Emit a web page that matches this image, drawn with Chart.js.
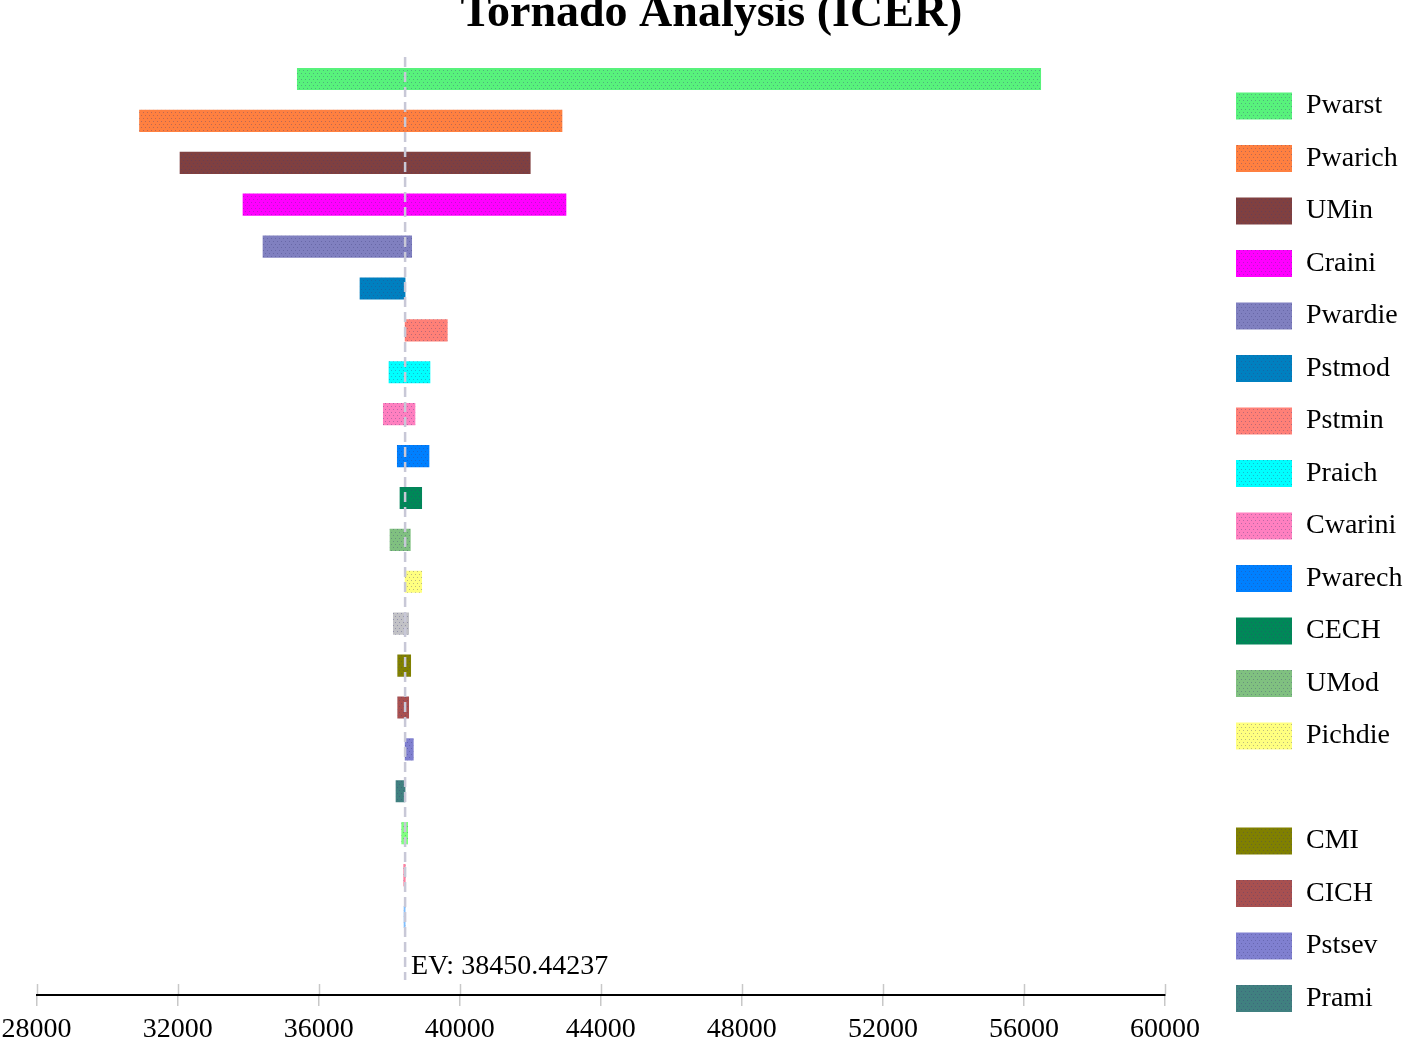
<!DOCTYPE html>
<html>
<head>
<meta charset="utf-8">
<script src="https://cdn.jsdelivr.net/npm/chart.js@4.4.1/dist/chart.umd.min.js"></script>
<style>
  html, body { margin: 0; padding: 0; background: #ffffff; }
  #wrap { width: 1403px; height: 1037px; position: relative; overflow: hidden; }
</style>
</head>
<body>
<div id="wrap"><canvas id="chart" width="1403" height="1037"></canvas></div>
<script>
// ---- data ----
const categories = ['Pwarst', 'Pwarich', 'UMin', 'Craini', 'Pwardie', 'Pstmod', 'Pstmin', 'Praich',
  'Cwarini', 'Pwarech', 'CECH', 'UMod', 'Pichdie', '', 'CMI', 'CICH', 'Pstsev', 'Prami', '', '', ''];
const lowValues  = [35393, 30918, 32067, 33853, 34420, 37171, 38450, 37993,
  37832, 38229, 38305, 38022, 38450, 38116, 38240, 38240, 38450, 38192, 38353, 38410, 38420];
const highValues = [56475, 42900, 42000, 43013, 38637, 38450, 39647, 39156,
  38731, 39128, 38921, 38598, 38921, 38552, 38609, 38552, 38683, 38450, 38523, 38455, 38452];
const xTickValues = [28000, 32000, 36000, 40000, 44000, 48000, 52000, 56000, 60000];
const expectedValue = 38450.44237;
const evLabel = 'EV: 38450.44237';
const chartTitle = 'Tornado Analysis (ICER)';
const legendVisibleCount = 18;

// ---- styles ----
const barColors = ['#58F27C', '#FF8040', '#804040', '#FF00FF', '#8080C0', '#0080C0', '#FF8077', '#00FFFF',
  '#FF80C0', '#0080FF', '#008858', '#80C080', '#FFFF80', '#C2C2C6', '#808000', '#A85050', '#8080D0',
  '#408080', '#80FF80', '#FF80A0', '#80C0FF'];
const SERIF = "'Liberation Serif', 'Times New Roman', Times, serif";

function hexToRgb(h) {
  const n = parseInt(h.slice(1), 16);
  return [(n >> 16) & 255, (n >> 8) & 255, n & 255];
}
function dotted(hex) {
  const c = document.createElement('canvas');
  c.width = 8; c.height = 6;
  const g = c.getContext('2d');
  g.fillStyle = hex; g.fillRect(0, 0, 8, 6);
  const [r, gg, b] = hexToRgb(hex);
  const m = (a, t) => Math.round(a * 0.65 + t * 0.35);
  g.fillStyle = `rgb(${m(r, 60)},${m(gg, 60)},${m(b, 120)})`;
  [[1, 1], [5, 1], [3, 4], [7, 4]].forEach(([x, y]) => g.fillRect(x, y, 1, 1));
  return g.createPattern(c, 'repeat');
}

const datasets = categories.map((name, i) => ({
  label: name,
  data: [{ x: [lowValues[i], highValues[i]], y: i }],
  backgroundColor: dotted(barColors[i]),
  borderWidth: 0,
  barThickness: 21.5,
  grouped: false,
  xAxisID: 'x',
  yAxisID: 'y'
}));

const evPlugin = {
  id: 'evLine',
  afterDatasetsDraw(chart) {
    const { ctx, chartArea, scales } = chart;
    const px = scales.x.getPixelForValue(expectedValue);
    ctx.save();
    ctx.strokeStyle = 'rgba(200,200,215,1)';
    ctx.lineWidth = 2.5;
    ctx.setLineDash([10, 5]);
    ctx.beginPath();
    ctx.moveTo(px, chartArea.top);
    ctx.lineTo(px, 980);
    ctx.stroke();
    ctx.setLineDash([]);
    ctx.fillStyle = '#000';
    ctx.font = '28px ' + SERIF;
    ctx.textBaseline = 'alphabetic';
    ctx.textAlign = 'left';
    ctx.fillText(evLabel, px + 6, 974);
    ctx.restore();
  }
};

const upperTicksPlugin = {
  id: 'upperTicks',
  afterDraw(chart) {
    const { ctx, chartArea, scales } = chart;
    ctx.save();
    ctx.strokeStyle = '#c8c8c8';
    ctx.lineWidth = 1.5;
    scales.x.ticks.forEach(t => {
      const px = Math.round(scales.x.getPixelForValue(t.value)) + 0.5;
      ctx.beginPath();
      ctx.moveTo(px, chartArea.bottom - 11);
      ctx.lineTo(px, chartArea.bottom - 1);
      ctx.stroke();
    });
    ctx.restore();
  }
};

new Chart(document.getElementById('chart'), {
  type: 'bar',
  data: { datasets },
  plugins: [evPlugin, upperTicksPlugin],
  options: {
    responsive: false,
    animation: false,
    indexAxis: 'y',
    layout: { padding: { left: 20, right: 0, top: 0, bottom: 0 } },
    scales: {
      x: {
        type: 'linear',
        position: 'bottom',
        min: 28000,
        max: 60000,
        offset: false,
        afterBuildTicks: s => { s.ticks = xTickValues.map(v => ({ value: v })); },
        afterFit: s => { s.height = 42; s.paddingLeft = 0; s.paddingRight = 0; },
        ticks: {
          font: { family: SERIF, size: 28 },
          color: '#000',
          padding: 7,
          maxRotation: 0,
          autoSkip: false,
          callback: v => String(v)
        },
        grid: { drawOnChartArea: false, drawTicks: true, tickLength: 11, color: '#c8c8c8', lineWidth: 1.5 },
        border: { display: true, color: '#000', width: 2 }
      },
      y: {
        type: 'linear',
        position: 'left',
        reverse: true,
        offset: false,
        bounds: 'data',
        min: -0.525,
        max: 21.862,
        afterFit: s => { s.width = 16.6; },
        ticks: { display: false },
        grid: { display: false, offset: false },
        border: { display: false }
      },
      yRight: {
        type: 'linear',
        position: 'right',
        offset: false,
        afterFit: s => { s.width = 46.5; },
        ticks: { display: false },
        grid: { display: false },
        border: { display: false }
      }
    },
    plugins: {
      title: {
        display: true,
        text: chartTitle,
        color: '#000',
        font: { family: SERIF, size: 46, weight: 'bold', lineHeight: 1 },
        padding: { top: -9, bottom: 20 }
      },
      legend: {
        display: true,
        position: 'right',
        align: 'end',
        maxWidth: 191.5,
        labels: {
          color: '#000',
          font: { family: SERIF, size: 28 },
          boxWidth: 56,
          boxHeight: 27,
          padding: 24.5,
          generateLabels(chart) {
            const items = Chart.defaults.plugins.legend.labels.generateLabels(chart);
            return items.map(it => it.text === ''
              ? Object.assign(it, { fillStyle: 'rgba(0,0,0,0)', strokeStyle: 'rgba(0,0,0,0)', lineWidth: 0 })
              : it);
          },
          filter: item => item.datasetIndex < legendVisibleCount
        }
      },
      tooltip: { enabled: false }
    }
  }
});
</script>
</body>
</html>
